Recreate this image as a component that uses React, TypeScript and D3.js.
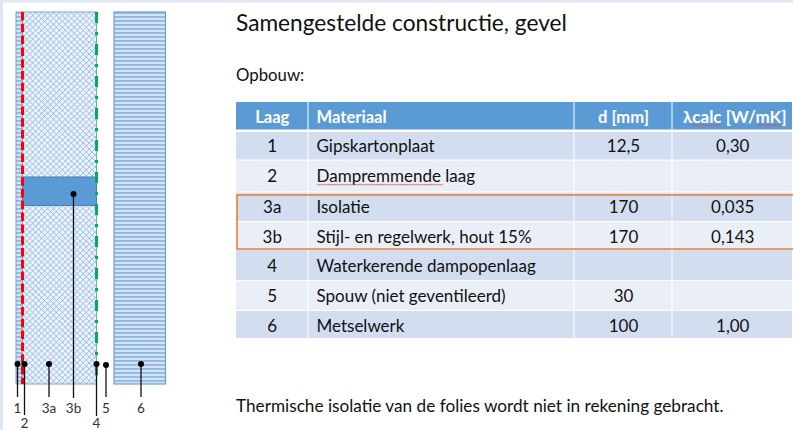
import React from "react";
import * as d3 from "d3";

const W = 793, H = 430;
const columns = ["Laag", "Materiaal", "d [mm]", "λcalc [W/mK]"];
const layers = ["1", "2", "3a", "3b", "4", "5", "6"];
const materials = ["Gipskartonplaat", "Dampremmende laag", "Isolatie", "Stijl- en regelwerk, hout 15%", "Waterkerende dampopenlaag", "Spouw (niet geventileerd)", "Metselwerk"];
const depths = ["12,5", "", "170", "170", "", "30", "100"];
const lambdas = ["0,30", "", "0,035", "0,143", "", "", "1,00"];
const title = "Samengestelde constructie, gevel";
const subtitle = "Opbouw:";
const footnote = "Thermische isolatie van de folies wordt niet in rekening gebracht.";

// table grid edges
const colEdges = [236, 308.5, 574.5, 672.5, 793];
const rowEdges = [132, 160.5, 192.5, 222, 249.5, 281, 311, 339];
const rowBaselines = [151.5, 181.5, 212.5, 243, 272, 302, 332];
// schematic wall, x in layer units
const wallEdges = [0, 6.5, 80.5, 98, 149.5];
const calloutX = [1.5, 8.5, 33, 57.5, 80.5, 90, 125];
const calloutEndY = [397, 415, 397, 398, 416, 397, 397];
const calloutStartY = [364, 364, 364, 194, 364, 365, 364];
const calloutLabelY = [413, 428, 413, 413, 428, 413, 413];

const x = d3.scaleLinear().domain([0, 149.5]).range([16, 165.5]);
const y = d3.scaleLinear().domain([0, 1]).range([12, 384]);
const studY = [177, 205.5];
// spell-check squiggles: [x start, x end, y]
const squiggles = [[317, 444, 184], [692, 722, 124.5], [757, 783, 124.5]];

function zigzag(x0: number, x1: number, yy: number) {
  const pts = d3.range(x0, x1, 1.5).map((px, i) => [px, yy + (i % 2) * 1.2] as [number, number]);
  return d3.line()(pts) ?? "";
}

export default function App() {
  const font = "Lato, Carlito, sans-serif";
  const fs = 17;
  const rows = layers.map((l, i) => ({ l, m: materials[i], d: depths[i], v: lambdas[i], y0: rowEdges[i], y1: rowEdges[i + 1], b: rowBaselines[i] }));
  const cx = (i: number) => (colEdges[i] + colEdges[i + 1]) / 2;
  const line = d3.line();
  return (
    <svg width={W} height={H} viewBox={`0 0 ${W} ${H}`} style={{ position: "fixed", left: 0, top: 0, background: "#fff" }} fontFamily={font}>
      <defs>
        <pattern id="cross" width="4.2" height="4.2" patternUnits="userSpaceOnUse" patternTransform="rotate(45)">
          <rect width="4.2" height="4.2" fill="#edf3fa" />
          <path d="M0 0H4.2M0 0V4.2" stroke="#8db6e2" strokeWidth="1.3" fill="none" />
        </pattern>
        <pattern id="stripe" width="4" height="4" patternUnits="userSpaceOnUse" y={y(0)}>
          <rect width="4" height="4" fill="#d3e3f4" />
          <rect width="4" height="1.8" fill="#8fb8e2" />
        </pattern>
      </defs>
      <rect width={W} height={2.5} fill="#dee7f3" />
      <rect width={3} height={H} fill="#dee7f3" />

      {/* wall section */}
      <rect x={x(wallEdges[0])} y={y(0)} width={x(wallEdges[1]) - x(wallEdges[0])} height={y(1) - y(0)} fill="url(#stripe)" stroke="#7ba5d2" />
      <rect x={x(wallEdges[1])} y={y(0)} width={x(wallEdges[2]) - x(wallEdges[1])} height={y(1) - y(0)} fill="url(#cross)" stroke="#7ba5d2" />
      <rect x={x(wallEdges[3])} y={y(0)} width={x(wallEdges[4]) - x(wallEdges[3])} height={y(1) - y(0)} fill="url(#stripe)" stroke="#6f9dcd" strokeWidth={1.2} />
      <rect x={x(wallEdges[1])} y={studY[0]} width={x(wallEdges[2]) - x(wallEdges[1])} height={studY[1] - studY[0]} fill="#5b9bd5" stroke="#4a7fb0" />
      <path d={line([[x(wallEdges[1]), y(0)], [x(wallEdges[1]), y(1)]]) ?? ""} stroke="#ff0000" strokeWidth={3} strokeDasharray="8.5 3.3" fill="none" />
      <path d={line([[x(wallEdges[2]), y(0)], [x(wallEdges[2]), y(1)]]) ?? ""} stroke="#00b050" strokeWidth={3} strokeDasharray="11 9 3 9" fill="none" />

      {/* callouts */}
      {layers.map((l, i) => (
        <g key={l}>
          <path d={line([[x(calloutX[i]), calloutStartY[i]], [x(calloutX[i]), calloutEndY[i]]]) ?? ""} stroke="#111" strokeWidth={1.3} />
          <circle cx={x(calloutX[i])} cy={calloutStartY[i]} r={3} fill="#000" />
          <text x={x(calloutX[i])} y={calloutLabelY[i]} textAnchor="middle" fontSize={13.5} fill="#333">{l}</text>
        </g>
      ))}

      <text x={236} y={31} fontSize={22.7} fill="#111">{title}</text>
      <text x={236} y={81} fontSize={16.8} fill="#111">{subtitle}</text>
      <text x={236} y={412} fontSize={17.2} fill="#111">{footnote}</text>

      {/* header */}
      {columns.map((c, i) => (
        <g key={c}>
          <rect x={colEdges[i]} y={102} width={colEdges[i + 1] - colEdges[i] - 1} height={27.5} fill="#5b9bd5" />
          <text x={i === 1 ? colEdges[1] + 8 : i === 3 ? cx(i) + 2 : cx(i)} y={122.5} textAnchor={i === 1 ? "start" : "middle"} fontSize={i === 3 ? 17 : 16.6} fontWeight={700} fill="#fff">{c}</text>
        </g>
      ))}
      {/* rows */}
      {rows.map((r, i) => (
        <g key={r.l} fontSize={fs} fill="#111">
          {[0, 1, 2, 3].map((c) => (
            <rect key={c} x={colEdges[c]} y={r.y0} width={colEdges[c + 1] - colEdges[c] - 1} height={r.y1 - r.y0 - 1} fill={i % 2 === 0 ? "#d2deef" : "#eaeff7"} />
          ))}
          <text x={cx(0)} y={r.b} textAnchor="middle">{r.l}</text>
          <text x={colEdges[1] + 8} y={r.b}>{r.m}</text>
          <text x={cx(2)} y={r.b} textAnchor="middle">{r.d}</text>
          <text x={cx(3)} y={r.b} textAnchor="middle">{r.v}</text>
        </g>
      ))}
      {squiggles.map((s) => (
        <path key={s[0]} d={zigzag(s[0], s[1], s[2])} fill="none" stroke="#e0464a" strokeWidth={0.8} />
      ))}
      <path d={`M793 ${rowEdges[2] + 2.5}H237V${rowEdges[4] - 0.5}H793`} fill="none" stroke="#ed7d31" strokeWidth={1.5} />
    </svg>
  );
}
